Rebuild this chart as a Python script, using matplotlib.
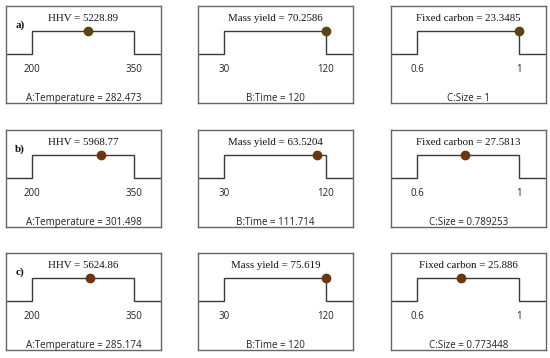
"""Optimization ramps: factor settings and predicted responses for three cases."""

import matplotlib.pyplot as plt

# factor ranges and names
factor_names = ["A:Temperature", "B:Time", "C:Size"]
factor_low = [200, 30, 0.6]
factor_high = [350, 120, 1]
factor_tick_labels = [["200", "350"], ["30", "120"], ["0.6", "1"]]

# responses (one per column)
response_names = ["HHV", "Mass yield", "Fixed carbon"]

# rows a), b), c)
row_labels = ["a)", "b)", "c)"]
settings_a = [282.473, 120, 1]
settings_b = [301.498, 111.714, 0.789253]
settings_c = [285.174, 120, 0.773448]
setting_text_a = ["282.473", "120", "1"]
setting_text_b = ["301.498", "111.714", "0.789253"]
setting_text_c = ["285.174", "120", "0.773448"]
responses_a = ["5228.89", "70.2586", "23.3485"]
responses_b = ["5968.77", "63.5204", "27.5813"]
responses_c = ["5624.86", "75.619", "25.886"]

settings = [settings_a, settings_b, settings_c]
setting_text = [setting_text_a, setting_text_b, setting_text_c]
responses = [responses_a, responses_b, responses_c]
dot_colors = ["#574812", "#6e3512", "#6e3512"]

W, H = 550, 358
col_x = [6, 198, 391]
col_w = 155
row_y = [6, 130, 253]
row_h = 97

serif = "Liberation Serif"
sans = "Open Sans"

fig = plt.figure(figsize=(5.5, 3.58), dpi=100)

for r in range(3):
    for c in range(3):
        ax = fig.add_axes([col_x[c] / W, 1 - (row_y[r] + row_h) / H, col_w / W, row_h / H])
        lo, hi = factor_low[c], factor_high[c]
        span = hi - lo
        x0, x1 = lo - 0.255 * span, hi + 0.265 * span
        ax.set_xlim(x0, x1)
        ax.set_ylim(0, 1)
        y_low, y_high = 0.505, 0.742
        ax.plot([x0, lo, lo, hi, hi, x1], [y_low, y_low, y_high, y_high, y_low, y_low],
                color="#3a3a3a", lw=1.0, solid_joinstyle="miter")
        ax.plot(settings[r][c], y_high, "o", ms=6, color=dot_colors[r],
                mec=dot_colors[r], zorder=3)
        for xv, lab in zip([lo, hi], factor_tick_labels[c]):
            ax.text(xv, 0.35, lab, ha="center", va="center", fontsize=7, family=sans,
                    color="#222222")
        ax.text(0.5, 0.05, f"{factor_names[c]} = {setting_text[r][c]}", transform=ax.transAxes,
                ha="center", va="center", fontsize=7, family=sans, color="#222222")
        ax.text(0.5, 0.875, f"{response_names[c]} = {responses[r][c]}", transform=ax.transAxes,
                ha="center", va="center", fontsize=7.8, family=serif, color="#111111")
        if c == 0:
            ax.text(0.06, 0.8, row_labels[r], transform=ax.transAxes, ha="left", va="center",
                    fontsize=8, family=serif, fontweight="bold", color="#111111")
        ax.set_xticks([])
        ax.set_yticks([])
        for sp in ax.spines.values():
            sp.set_color("#666666")
            sp.set_linewidth(1.0)

fig.savefig("out.png", dpi=100)
